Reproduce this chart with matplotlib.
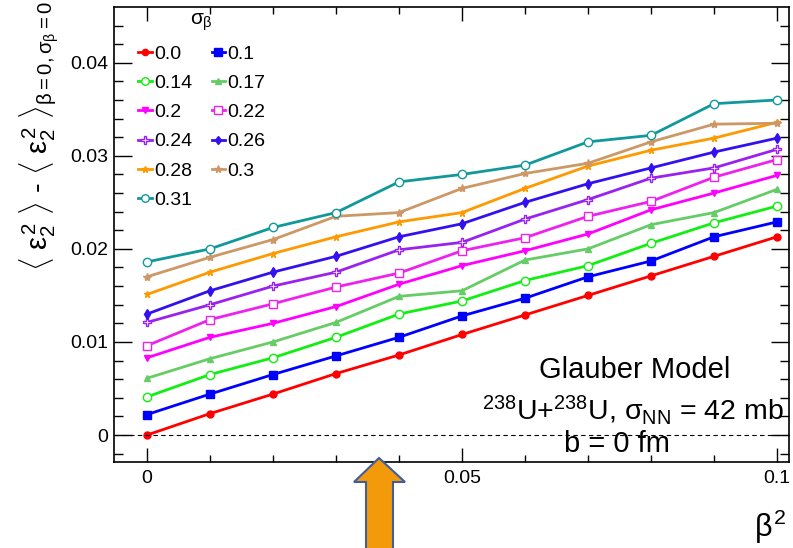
import matplotlib
matplotlib.use('Agg')
import matplotlib.pyplot as plt
from matplotlib.ticker import MultipleLocator, FuncFormatter
from matplotlib.patches import Polygon

plt.rcParams['font.family'] = ['Liberation Sans', 'DejaVu Sans']
plt.rcParams['mathtext.fontset'] = 'custom'
plt.rcParams['mathtext.rm'] = 'Liberation Sans'
plt.rcParams['mathtext.it'] = 'Liberation Sans'
plt.rcParams['mathtext.bf'] = 'Liberation Sans:bold'

# beta^2 values
beta2 = [0.0, 0.01, 0.02, 0.03, 0.04, 0.05, 0.06, 0.07, 0.08, 0.09, 0.1]

# sigma_beta labels
sigmas = ['0.0', '0.1', '0.14', '0.17', '0.2', '0.22', '0.24', '0.26', '0.28', '0.3', '0.31']

# <eps2^2> - <eps2^2>_{0,0} for each sigma_beta
s000 = [0.0000, 0.0023, 0.0044, 0.0066, 0.0086, 0.0108, 0.0129, 0.0150, 0.0171, 0.0192, 0.0213]
s010 = [0.0022, 0.0044, 0.0065, 0.0085, 0.0105, 0.0128, 0.0147, 0.0170, 0.0187, 0.0213, 0.0229]
s014 = [0.0041, 0.0065, 0.0083, 0.0105, 0.0130, 0.0144, 0.0166, 0.0182, 0.0206, 0.0228, 0.0246]
s017 = [0.0061, 0.0082, 0.0100, 0.0121, 0.0149, 0.0155, 0.0188, 0.0200, 0.0226, 0.0239, 0.0264]
s020 = [0.0083, 0.0105, 0.0120, 0.0138, 0.0162, 0.0182, 0.0198, 0.0216, 0.0242, 0.0260, 0.0279]
s022 = [0.0096, 0.0124, 0.0141, 0.0159, 0.0174, 0.0198, 0.0212, 0.0235, 0.0251, 0.0277, 0.0296]
s024 = [0.0121, 0.0140, 0.0160, 0.0175, 0.0199, 0.0207, 0.0232, 0.0253, 0.0276, 0.0287, 0.0307]
s026 = [0.0130, 0.0155, 0.0175, 0.0192, 0.0213, 0.0227, 0.0250, 0.0270, 0.0287, 0.0304, 0.0319]
s028 = [0.0151, 0.0175, 0.0195, 0.0213, 0.0229, 0.0239, 0.0265, 0.0289, 0.0306, 0.0319, 0.0336]
s030 = [0.0170, 0.0191, 0.0210, 0.0235, 0.0239, 0.0265, 0.0281, 0.0292, 0.0315, 0.0334, 0.0335]
s031 = [0.0186, 0.0200, 0.0223, 0.0239, 0.0272, 0.0280, 0.0290, 0.0315, 0.0322, 0.0356, 0.0360]
series = [s000, s010, s014, s017, s020, s022, s024, s026, s028, s030, s031]

colors = ['#ff0000', '#0000ff', '#11ee11', '#66cc66', '#ff00ff', '#ee22ee',
          '#9922ee', '#3311ee', '#ff9900', '#cc9966', '#119999']
markers = ['o', 's', 'o', '^', 'v', 's', 'P', 'd', '*', '*', 'o']
filled = [True, True, False, True, True, False, False, True, True, True, False]
msizes = [5, 6, 6, 5, 5, 6, 6, 5, 5, 6, 6]

fig = plt.figure(figsize=(7.93, 5.48), dpi=100)
ax = fig.add_axes([114 / 793, 1 - 462 / 548, 675 / 793, 455 / 548])

handles = []
for y, lab, c, m, f, ms in zip(series, sigmas, colors, markers, filled, msizes):
    h, = ax.plot(beta2, y, color=c, lw=2.0, marker=m, ms=ms,
                 markerfacecolor=c if f else 'white', markeredgecolor=c,
                 markeredgewidth=1.0, label=lab)
    handles.append(h)

ax.axhline(0, color='black', lw=0.8, ls=(0, (4, 3)))

ax.set_xlim(-0.00524, 0.1019)
ax.set_ylim(-0.0029, 0.04599)
ax.xaxis.set_major_locator(MultipleLocator(0.05))
ax.xaxis.set_minor_locator(MultipleLocator(0.01))
ax.yaxis.set_major_locator(MultipleLocator(0.01))
ax.yaxis.set_minor_locator(MultipleLocator(0.002))
fmt = FuncFormatter(lambda v, p: f'{round(v, 4):g}')
ax.xaxis.set_major_formatter(fmt)
ax.yaxis.set_major_formatter(fmt)
ax.tick_params(which='both', direction='in', top=True, right=True, labelsize=14, width=1)
ax.tick_params(axis='x', which='major', length=10, pad=6)
ax.tick_params(axis='x', which='minor', length=5)
ax.tick_params(axis='y', which='major', length=13, pad=4)
ax.tick_params(axis='y', which='minor', length=6.5)
for s in ax.spines.values():
    s.set_linewidth(1.2)

# legend, filled row by row
order = [0, 2, 4, 6, 8, 10, 1, 3, 5, 7, 9]
leg = ax.legend([handles[i] for i in order], [sigmas[i] for i in order],
                ncol=2, title=r'$\sigma_{\beta}$', title_fontsize=15,
                fontsize=14, frameon=False, loc='upper left',
                bbox_to_anchor=(138 / 793, 1 - 10 / 548), bbox_transform=fig.transFigure,
                borderpad=0, borderaxespad=0, handlelength=0.7, handletextpad=0.12,
                labelspacing=0.6, columnspacing=1.0, markerscale=0.9)

ax.text(635, 548 - 370, 'Glauber Model', transform=None, fontsize=21, ha='center', va='center')
ax.text(633, 548 - 410, r'$^{238}$U+$^{238}$U, $\sigma_{NN}$ = 42 mb', transform=None,
        fontsize=20.5, ha='center', va='center')
ax.text(617, 548 - 444, 'b = 0 fm', transform=None, fontsize=21, ha='center', va='center')

fig.text(0.05, 0.997,
         r'$\langle\ \varepsilon_{2}^{2}\ \rangle$ - $\langle\ \varepsilon_{2}^{2}\ \rangle_{\beta=0,\sigma_{\beta}=0}$',
         rotation=90, ha='center', va='top', fontsize=21)
fig.text(770 / 793, 1 - 527 / 548, r'$\beta^{2}$', ha='center', va='center', fontsize=22)

# orange arrow below the axis
arrow = [(379, 458), (405, 482), (393, 482), (393, 560), (366, 560), (366, 482), (354, 482)]
arrow = [(x / 793, 1 - y / 548) for x, y in arrow]
fig.patches.append(Polygon(arrow, closed=True, transform=fig.transFigure,
                           facecolor='#f39a0b', edgecolor='#3e5e9e', lw=1.5, clip_on=False))

fig.savefig('out.png', dpi=100)
